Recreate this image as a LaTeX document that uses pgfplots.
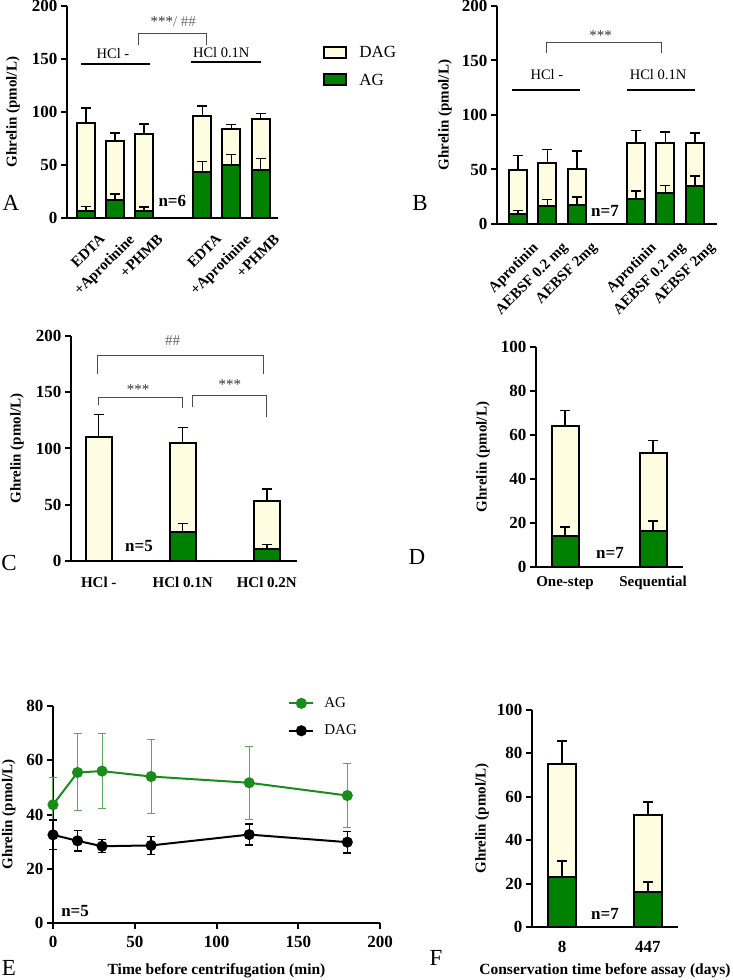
\documentclass[border=0pt]{standalone}
\usepackage{fontspec}
\setmainfont{Liberation Serif}
\usepackage{pgfplots}
\usepackage{pgfplotstable}
\pgfplotsset{compat=1.18}
\definecolor{cream}{RGB}{255,253,225}
\definecolor{dgreen}{RGB}{0,128,0}
\definecolor{lgreen}{RGB}{25,140,25}
\definecolor{egreen}{RGB}{90,170,90}
\newcommand{\fs}[1]{\fontsize{#1}{#1}\selectfont}

\pgfplotstableread{
x t te a ae
0 89.5 14.1 6.9 3.8
1 72.5 7.5 17.3 5.3
2 78.8 10.1 6.9 3.5
4 96.0 9.8 43.3 10.1
5 83.5 4.7 49.6 10.1
6 93.2 5.4 45.2 10.7
}\tabA
\pgfplotstableread{
x t te a ae
0 49.5 13.2 8.9 3.3
1 55.7 12.5 16.8 5.5
2 50.2 16.8 17.7 7.1
4 74.6 11.0 22.6 7.7
5 74.3 10.1 28.1 7.4
6 74.0 9.5 34.9 9.1
}\tabB
\pgfplotstableread{
x t te
0 110.4 19.9
1 104.5 14.2
2 53.1 11.0
}\tabCt
\pgfplotstableread{
x a ae
1 25.8 7.4
2 10.4 4.1
}\tabCa
\pgfplotstableread{
x t te a ae
0 64.2 6.9 14.1 4.1
1 51.8 5.6 16.5 4.4
}\tabD
\pgfplotstableread{
x t te a ae
0 75.1 10.6 23.1 7.2
1 51.8 5.7 16.2 4.6
}\tabF
\pgfplotstableread{
x y e
0 43.6 10.0
15 55.5 14.2
30 56.0 13.8
60 54.0 13.8
120 51.7 13.5
180 47.0 11.8
}\tabEa
\pgfplotstableread{
x y e
0 32.5 5.4
15 30.3 3.8
30 28.3 2.4
60 28.6 3.3
120 32.6 3.9
180 29.8 4.0
}\tabEd

\pgfplotsset{
  base/.style={scale only axis, anchor=south west, axis lines=left,
    axis line style={line width=2.2pt,-}, clip=false,
    tick align=outside, major tick length=6pt,
    ytick style={line width=2pt,black},
    tick label style={font=\bfseries\fs{17}},
    /pgf/number format/assume math mode=true,
    ylabel={Ghrelin (pmol/L)}, ylabel style={font=\bfseries\fs{15}, anchor=center},
    ymin=0},
  barax/.style={base, xtick style={draw=none}},
  legimg/.style={legend image code/.code={\draw[##1, line width=2pt] (0pt,-5pt) rectangle (22pt,6pt);}},
  ebar/.style={error bars/.cd, y dir=plus, y explicit,
    error bar style={line width=1.5pt,black},
    error mark options={line width=1.5pt,black,mark size=5pt,rotate=90}},
}

\begin{document}
\begin{tikzpicture}
\useasboundingbox (0pt,0pt) rectangle (733pt,980pt);

% ---------------- Panel A
\begin{axis}[barax, at={(67pt,762pt)}, width=211pt, height=212pt,
  xmin=-0.65, xmax=6.6, ymax=200, ytick={0,50,...,200},
  xtick={0,1,2,4,5,6}, xticklabels={EDTA,+Aprotinine,+PHMB,EDTA,+Aprotinine,+PHMB},
  xticklabel style={rotate=45, anchor=north east, font=\bfseries\fs{15}, xshift=6pt, yshift=-12pt},
  ylabel style={at={(axis description cs:-0.256,0.5)}},
  legend style={at={(axis description cs:1.20,0.83)}, anchor=north west, draw=none, fill=none,
    font=\fs{17}, row sep=11pt, column sep=10pt}, legend cell align=left]
\addplot[ybar, bar width=18pt, fill=cream, draw=black, line width=2pt, legimg, ebar] table[x=x,y=t,y error=te]{\tabA};
\addlegendentry{DAG}
\addplot[ybar, bar width=18pt, fill=dgreen, draw=black, line width=2pt, legimg, ebar] table[x=x,y=a,y error=ae]{\tabA};
\addlegendentry{AG}
\draw[line width=2.2pt] (axis cs:-0.17,145.4) -- (axis cs:2.2,145.4);
\node[font=\fs{14.5}] at (axis cs:0.93,155.5) {HCl -};
\draw[line width=2.2pt] (axis cs:3.62,147) -- (axis cs:6.0,147);
\node[font=\fs{14.5}] at (axis cs:4.65,156) {HCl 0.1N};
\draw[line width=0.8pt, black!70] (axis cs:1.8,163.3) |- (axis cs:4.13,174.3) -- (axis cs:4.13,163.3);
\node[font=\fs{15}] at (axis cs:3.0,185) {{\color{black!80}***}{\color{black!55}/ \#\#}};
\node[font=\bfseries\fs{17}] at (axis cs:2.97,15.7) {n=6};
\end{axis}

% ---------------- Panel B
\begin{axis}[barax, at={(497pt,756pt)}, width=220pt, height=218pt,
  xmin=-0.71, xmax=6.75, ymax=200, ytick={0,50,...,200},
  xtick={0,1,2,4,5,6}, xticklabels={Aprotinin,AEBSF 0.2 mg,AEBSF 2mg,Aprotinin,AEBSF 0.2 mg,AEBSF 2mg},
  xticklabel style={rotate=45, anchor=north east, font=\bfseries\fs{15}, xshift=5pt, yshift=-14pt},
  ylabel style={at={(axis description cs:-0.236,0.5)}}]
\addplot[ybar, bar width=18pt, fill=cream, draw=black, line width=2pt, ebar] table[x=x,y=t,y error=te]{\tabB};
\addplot[ybar, bar width=18pt, fill=dgreen, draw=black, line width=2pt, ebar] table[x=x,y=a,y error=ae]{\tabB};
\draw[line width=2.2pt] (axis cs:-0.2,123) -- (axis cs:2.1,123);
\node[font=\fs{14.5}] at (axis cs:0.98,136.7) {HCl -};
\draw[line width=2.2pt] (axis cs:3.7,123) -- (axis cs:6.0,123);
\node[font=\fs{14.5}] at (axis cs:4.75,136.7) {HCl 0.1N};
\draw[line width=0.8pt, black!70] (axis cs:0.95,156.6) |- (axis cs:4.88,166.4) -- (axis cs:4.88,156.6);
\node[font=\fs{15}, black!80] at (axis cs:2.8,173) {***};
\node[font=\bfseries\fs{17}] at (axis cs:2.95,12.2) {n=7};
\end{axis}

% ---------------- Panel C
\begin{axis}[barax, at={(71pt,419pt)}, width=226pt, height=225pt,
  xmin=-0.33, xmax=2.36, ymax=200, ytick={0,50,...,200},
  xtick={0,1,2}, xticklabels={HCl -,HCl 0.1N,HCl 0.2N},
  xticklabel style={font=\bfseries\fs{15}, yshift=-7pt},
  ylabel style={at={(axis description cs:-0.239,0.5)}}]
\addplot[ybar, bar width=26pt, fill=cream, draw=black, line width=2pt, ebar] table[x=x,y=t,y error=te]{\tabCt};
\addplot[ybar, bar width=26pt, fill=dgreen, draw=black, line width=2pt, ebar] table[x=x,y=a,y error=ae]{\tabCa};
\draw[line width=0.8pt, black!70] (axis cs:-0.02,166.2) |- (axis cs:1.96,183) -- (axis cs:1.96,166.2);
\node[font=\fs{15}, black!60] at (axis cs:0.88,195.8) {\#\#};
\draw[line width=0.8pt, black!70] (axis cs:0.0,138.6) |- (axis cs:1.0,145) -- (axis cs:1.0,135.6);
\node[font=\fs{15}, black!80] at (axis cs:0.47,152) {***};
\draw[line width=0.8pt, black!70] (axis cs:1.11,136.5) |- (axis cs:2.0,146.9) -- (axis cs:2.0,127.6);
\node[font=\fs{15}, black!80] at (axis cs:1.56,156.4) {***};
\node[font=\bfseries\fs{17}] at (axis cs:0.48,13) {n=5};
\end{axis}

% ---------------- Panel D
\begin{axis}[barax, at={(536pt,413pt)}, width=147pt, height=220pt,
  xmin=-0.33, xmax=1.34, ymax=100, ytick={0,20,...,100},
  xtick={0,1}, xticklabels={One-step,Sequential},
  xticklabel style={font=\bfseries\fs{15}},
  ylabel style={at={(axis description cs:-0.361,0.5)}}]
\addplot[ybar, bar width=27pt, fill=cream, draw=black, line width=2pt, ebar] table[x=x,y=t,y error=te]{\tabD};
\addplot[ybar, bar width=27pt, fill=dgreen, draw=black, line width=2pt, ebar] table[x=x,y=a,y error=ae]{\tabD};
\node[font=\bfseries\fs{17}] at (axis cs:0.51,6.4) {n=7};
\end{axis}

% ---------------- Panel E
\begin{axis}[base, at={(53pt,57pt)}, width=327pt, height=217pt,
  xmin=0, xmax=200, ymax=80, xtick={0,50,...,200}, ytick={0,20,...,80},
  xtick style={line width=2pt,black},
  xticklabel style={yshift=-4pt},
  xlabel={Time before centrifugation (min)},
  xlabel style={font=\bfseries\fs{15.5}, at={(axis description cs:0.5,-0.221)}, anchor=center},
  ylabel style={at={(axis description cs:-0.135,0.5)}},
  legend style={at={(axis description cs:0.71,1.058)}, anchor=north west, draw=none, fill=none,
    font=\fs{15}, row sep=12pt, column sep=8pt}, legend cell align=left,
  legend image code/.code={\draw[mark repeat=2,mark phase=2,#1] plot coordinates {(0pt,0pt) (12pt,0pt) (24pt,0pt)};}]
\addplot[lgreen, line width=2pt, mark=*, mark size=4.5pt,
  error bars/.cd, y dir=both, y explicit, error bar style={egreen, line width=1pt},
  error mark options={egreen, line width=1pt, mark size=4pt, rotate=90}] table[x=x,y=y,y error=e]{\tabEa};
\addlegendentry{AG}
\addplot[black, line width=2pt, mark=*, mark size=4.5pt,
  error bars/.cd, y dir=both, y explicit, error bar style={black, line width=1.4pt},
  error mark options={black, line width=1.4pt, mark size=4pt, rotate=90}] table[x=x,y=y,y error=e]{\tabEd};
\addlegendentry{DAG}
\node[font=\bfseries\fs{17}] at (axis cs:13.5,4.3) {n=5};
\end{axis}

% ---------------- Panel F
\begin{axis}[barax, at={(532pt,53pt)}, width=146pt, height=217pt,
  xmin=-0.35, xmax=1.35, ymax=100, ytick={0,20,...,100},
  xtick={0,1}, xticklabels={8,447},
  xticklabel style={yshift=-5pt},
  xlabel={Conservation time before assay (days)},
  xlabel style={font=\bfseries\fs{15.5}, at={(axis description cs:0.5,-0.203)}, anchor=center},
  ylabel style={at={(axis description cs:-0.342,0.5)}}]
\addplot[ybar, bar width=28pt, fill=cream, draw=black, line width=2pt, ebar] table[x=x,y=t,y error=te]{\tabF};
\addplot[ybar, bar width=28pt, fill=dgreen, draw=black, line width=2pt, ebar] table[x=x,y=a,y error=ae]{\tabF};
\node[font=\bfseries\fs{17}] at (axis cs:0.5,6.2) {n=7};
\end{axis}

% panel letters
\node[font=\fs{23}] at (11pt,777pt) {A};
\node[font=\fs{23}] at (420pt,777pt) {B};
\node[font=\fs{23}] at (9pt,417pt) {C};
\node[font=\fs{23}] at (417pt,423pt) {D};
\node[font=\fs{23}] at (9pt,12pt) {E};
\node[font=\fs{23}] at (436pt,22pt) {F};
\end{tikzpicture}
\end{document}
